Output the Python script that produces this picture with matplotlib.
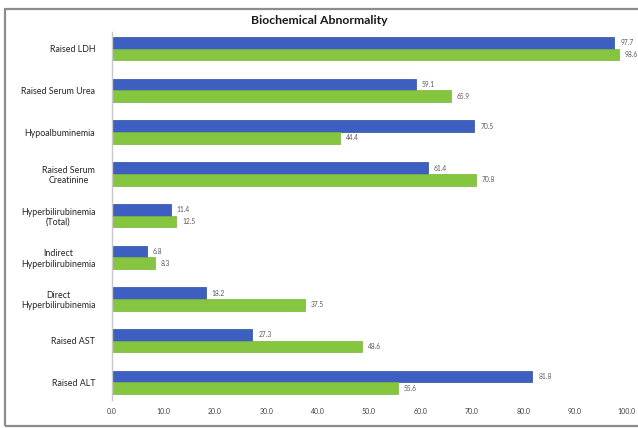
import numpy as np
import matplotlib.pyplot as plt
from matplotlib.patches import Rectangle

categories = ["Raised LDH", "Raised Serum Urea", "Hypoalbuminemia",
              "Raised Serum\nCreatinine", "Hyperbilirubinemia\n(Total)",
              "Indirect\nHyperbilirubinemia", "Direct\nHyperbilirubinemia",
              "Raised AST", "Raised ALT"]
blue_vals = [97.7, 59.1, 70.5, 61.4, 11.4, 6.8, 18.2, 27.3, 81.8]
green_vals = [98.6, 65.9, 44.4, 70.8, 12.5, 8.3, 37.5, 48.6, 55.6]
xticks = np.arange(0, 101, 10)

plt.rcParams['font.family'] = ['Lato', 'DejaVu Sans']

fig = plt.figure(figsize=(6.38, 4.28), dpi=100)
fig.patches.append(Rectangle((5 / 638, 0.004), 1.0, 1 - 11 / 428, transform=fig.transFigure,
                             fill=False, edgecolor="#8c8c8c", linewidth=1.6))
ax = fig.add_axes([112 / 638, 28 / 428, 514 / 638, 368 / 428])

n = len(categories)
y = np.arange(n)[::-1]
h = 0.28
ax.barh(y + h / 2, blue_vals, height=h, color="#3d5fc1", edgecolor="#2f4d9e", linewidth=0.5)
ax.barh(y - h / 2, green_vals, height=h, color="#86c540", edgecolor="#78b535", linewidth=0.5)

for yi, b, g in zip(y, blue_vals, green_vals):
    ax.text(b + 1.2, yi + h / 2, f"{b:.1f}", va="center", ha="left", fontsize=4.8, color="#595959")
    ax.text(g + 1.2, yi - h / 2, f"{g:.1f}", va="center", ha="left", fontsize=4.8, color="#595959")

ax.set_ylim(-0.42, n - 1 + 0.4)
ax.set_xlim(0, 100)
ax.set_yticks(y)
ax.set_yticklabels(categories, fontsize=6.4, color="#262626", multialignment="center")
ax.set_xticks(xticks)
ax.set_xticklabels([f"{v:.1f}" for v in xticks], fontsize=5, color="#404040")
ax.tick_params(axis="x", length=0, pad=6)
ax.tick_params(axis="y", length=0, pad=12)
for s in ["top", "right", "bottom"]:
    ax.spines[s].set_visible(False)
ax.spines["left"].set_color("#c8c8c8")
ax.spines["left"].set_linewidth(1.0)

fig.text(0.5, 1 - 20 / 428, "Biochemical Abnormality", ha="center", va="center",
         fontsize=8.8, fontweight="bold", color="#1a1a1a")

fig.savefig("out.png", dpi=100)
